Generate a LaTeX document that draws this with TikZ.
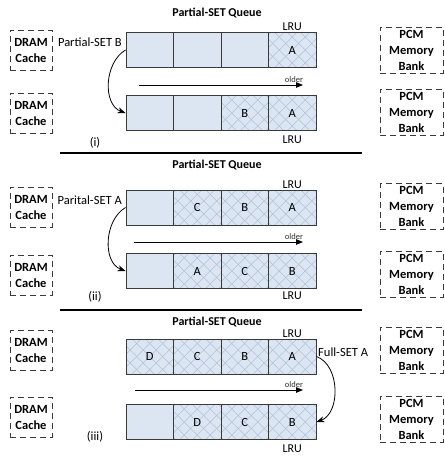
\documentclass[tikz,border=0pt]{standalone}
\usepackage{fontspec}
\setmainfont{Carlito}
\usetikzlibrary{arrows.meta}
\definecolor{cellfill}{HTML}{DCE6F2}
\definecolor{hatchcol}{HTML}{AFC3DB}
\definecolor{edgecol}{HTML}{3A3A3A}
\tikzset{
  cellbox/.style={draw=edgecol, line width=0.9pt, minimum width=47.5pt, minimum height=35pt, inner sep=0pt, font=\fontsize{12.5}{14}\selectfont},
  hatchline/.style={draw=hatchcol, line width=0.6pt},
  dashbox/.style={draw=edgecol, line width=0.8pt, dash pattern=on 6pt off 4pt, inner sep=0pt, align=center, font=\bfseries\fontsize{12.5}{16}\selectfont},
  dramcache/.style={dashbox, minimum width=42pt, minimum height=40pt},
  pcmbank/.style={dashbox, minimum width=63pt, minimum height=46pt, font=\bfseries\fontsize{12.5}{16}\selectfont},
  qtitle/.style={font=\bfseries\fontsize{12}{14}\selectfont},
  lrutext/.style={font=\fontsize{12}{14}\selectfont, inner sep=1pt},
  lrubelow/.style={lrutext, anchor=north, yshift=-4pt},
  oldertext/.style={font=\fontsize{8.5}{10}\selectfont, text=black!80, inner sep=1pt},
  plaintext/.style={font=\fontsize{12.5}{14}\selectfont, inner sep=1pt},
  sepline/.style={line width=1.6pt},
  agearrow/.style={line width=0.9pt, -{Triangle[length=7pt,width=5.5pt]}},
  movearrow/.style={line width=0.8pt, -{Stealth[length=8pt,width=6pt]}},
}
% one queue cell: name, x centre, y centre, label (a labelled cell is hatched)
\newcommand\qcell[4]{%
  \fill[cellfill] (#2-23.75,#3-17.5) rectangle (#2+23.75,#3+17.5);
  \def\qlabel{#4}%
  \ifx\qlabel\empty\else
    \begin{scope}
      \clip (#2-23.75,#3-17.5) rectangle (#2+23.75,#3+17.5);
      \foreach \d in {-65,-52,...,65} {
        \draw[hatchline] (#2+\d-30,#3-30) -- ++(60,60);
        \draw[hatchline] (#2+\d-30,#3+30) -- ++(60,-60);
      }
    \end{scope}
  \fi
  \node[cellbox] (#1) at (#2,#3) {#4};
}
% a row of four cells: name prefix, y centre, four labels
\newcommand\qrow[6]{%
  \qcell{#1a}{149.75}{#2}{#3}
  \qcell{#1b}{197.25}{#2}{#4}
  \qcell{#1c}{244.75}{#2}{#5}
  \qcell{#1d}{292.25}{#2}{#6}
}
\begin{document}
\begin{tikzpicture}[x=1pt,y=-1pt]
\useasboundingbox (0,0) rectangle (445,456);

% ---------- (i) ----------
\node[qtitle] (t1) at (217,13) {Partial-SET Queue};
\qrow{ia}{50}{}{}{}{A}
\qrow{ib}{113}{}{}{B}{A}
\node[lrutext, anchor=south] (l1a) at (iad.north) {LRU};
\node[lrubelow] (l1b) at (ibd.south) {LRU};
\coordinate (o1s) at (139,85);
\coordinate (o1e) at (303,85);
\draw[agearrow] (o1s) -- (o1e);
\node[oldertext, anchor=south] (o1) at (294,84) {older};
\node[dramcache] (d1a) at (31,50) {DRAM\\Cache};
\node[dramcache] (d1b) at (31,113) {DRAM\\Cache};
\node[pcmbank] (p1a) at (411.5,50) {PCM\\Memory\\Bank};
\node[pcmbank] (p1b) at (411.5,112) {PCM\\Memory\\Bank};
\node[plaintext, anchor=east] (m1) at (123,42) {Partial-SET B};
\draw[movearrow] (iaa.west) to[out=210, in=160] (iba.west);
\node[plaintext] (n1) at (95,143) {(i)};
\coordinate (s1a) at (60,153);
\coordinate (s1b) at (362,153);
\draw[sepline] (s1a) -- (s1b);

% ---------- (ii) ----------
\node[qtitle] (t2) at (217,165) {Partial-SET Queue};
\qrow{iia}{207.5}{}{C}{B}{A}
\qrow{iib}{271}{}{A}{C}{B}
\node[lrutext, anchor=south] (l2a) at (iiad.north) {LRU};
\node[lrubelow, yshift=2pt] (l2b) at (iibd.south) {LRU};
\coordinate (o2s) at (134,242);
\coordinate (o2e) at (303,242);
\draw[agearrow] (o2s) -- (o2e);
\node[oldertext, anchor=south] (o2) at (294,241) {older};
\node[dramcache] (d2a) at (31,207) {DRAM\\Cache};
\node[dramcache] (d2b) at (31,275) {DRAM\\Cache};
\node[pcmbank] (p2a) at (411.5,206.5) {PCM\\Memory\\Bank};
\node[pcmbank] (p2b) at (411.5,274) {PCM\\Memory\\Bank};
\node[plaintext, anchor=east] (m2) at (123,200) {Parital-SET A};
\draw[movearrow] (iiaa.west) to[out=210, in=160] (iiba.west);
\node[plaintext] (n2) at (95,297) {(ii)};
\coordinate (s2a) at (60,310);
\coordinate (s2b) at (362,310);
\draw[sepline] (s2a) -- (s2b);

% ---------- (iii) ----------
\node[qtitle] (t3) at (217,322) {Partial-SET Queue};
\qrow{iiia}{356.5}{D}{C}{B}{A}
\qrow{iiib}{422}{}{D}{C}{B}
\node[lrutext, anchor=south] (l3a) at (iiiad.north) {LRU};
\node[lrubelow] (l3b) at (iiibd.south) {LRU};
\coordinate (o3s) at (135,390);
\coordinate (o3e) at (303,390);
\draw[agearrow] (o3s) -- (o3e);
\node[oldertext, anchor=south] (o3) at (294,389) {older};
\node[dramcache] (d3a) at (31,350.5) {DRAM\\Cache};
\node[dramcache] (d3b) at (31,417) {DRAM\\Cache};
\node[pcmbank] (p3a) at (411.5,350) {PCM\\Memory\\Bank};
\node[pcmbank] (p3b) at (411.5,419) {PCM\\Memory\\Bank};
\node[plaintext, anchor=west] (m3) at (317,352) {Full-SET A};
\draw[movearrow] (iiiad.east) to[out=-20, in=20] (iiibd.east);
\node[plaintext] (n3) at (95,437) {(iii)};
\end{tikzpicture}
\end{document}
